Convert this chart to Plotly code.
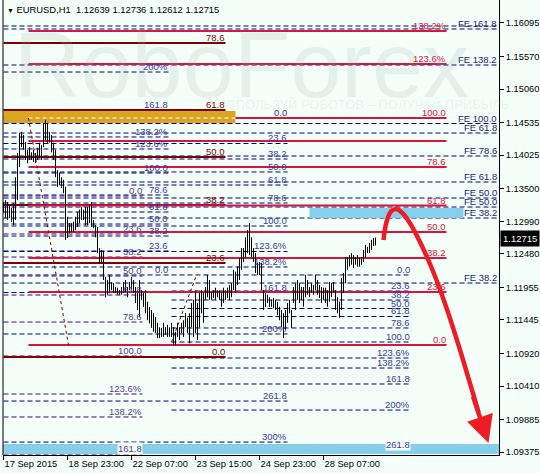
import plotly.graph_objects as go

BG = "#F4FFF9"
FONT = "Liberation Sans, Arial, sans-serif"

# EURUSD H1 bars (high / low), one per hour, left to right
bar_high = [
    1.1329, 1.1332, 1.1329, 1.1324, 1.1320, 1.1327, 1.1368, 1.1406, 1.1437, 1.1439,
    1.1434, 1.1423, 1.1411, 1.1415, 1.1407, 1.1411, 1.1406, 1.1414, 1.1422, 1.1418,
    1.1453, 1.1458, 1.1453, 1.1439, 1.1434, 1.1422, 1.1411, 1.1379, 1.1375, 1.1368,
    1.1364, 1.1353, 1.1306, 1.1296, 1.1296, 1.1298, 1.1306, 1.1314, 1.1317, 1.1321,
    1.1317, 1.1321, 1.1321, 1.1324, 1.1329, 1.1301, 1.1293, 1.1290, 1.1257, 1.1254,
    1.1251, 1.1212, 1.1207, 1.1215, 1.1204, 1.1202, 1.1196, 1.1195, 1.1191, 1.1196,
    1.1204, 1.1207, 1.1196, 1.1204, 1.1212, 1.1207, 1.1196, 1.1191, 1.1207, 1.1191,
    1.1187, 1.1191, 1.1173, 1.1165, 1.1160, 1.1155, 1.1149, 1.1140, 1.1133, 1.1132,
    1.1140, 1.1133, 1.1137, 1.1133, 1.1140, 1.1133, 1.1126, 1.1140, 1.1133, 1.1140,
    1.1144, 1.1155, 1.1148, 1.1155, 1.1171, 1.1176, 1.1191, 1.1171, 1.1187, 1.1191,
    1.1187, 1.1196, 1.1215, 1.1207, 1.1188, 1.1191, 1.1195, 1.1191, 1.1191, 1.1188,
    1.1195, 1.1191, 1.1195, 1.1199, 1.1202, 1.1223, 1.1220, 1.1228, 1.1242, 1.1257,
    1.1257, 1.1274, 1.1285, 1.1296, 1.1274, 1.1257, 1.1249, 1.1234, 1.1235, 1.1234,
    1.1191, 1.1187, 1.1184, 1.1180, 1.1176, 1.1179, 1.1176, 1.1173, 1.1165, 1.1160,
    1.1155, 1.1160, 1.1171, 1.1176, 1.1160, 1.1196, 1.1202, 1.1207, 1.1202, 1.1196,
    1.1196, 1.1215, 1.1207, 1.1196, 1.1202, 1.1199, 1.1215, 1.1207, 1.1199, 1.1196,
    1.1195, 1.1195, 1.1191, 1.1204, 1.1202, 1.1204, 1.1191, 1.1180, 1.1173, 1.1210,
    1.1218, 1.1243, 1.1243, 1.1246, 1.1249, 1.1246, 1.1243, 1.1246, 1.1242, 1.1243,
    1.1254, 1.1262, 1.1259, 1.1265, 1.1270, 1.1273, 1.12736,
]
bar_low = [
    1.1312, 1.1304, 1.1301, 1.1304, 1.1298, 1.1293, 1.1301, 1.1332, 1.1384, 1.1415,
    1.1411, 1.1395, 1.1390, 1.1395, 1.1395, 1.1392, 1.1390, 1.1395, 1.1398, 1.1395,
    1.1415, 1.1426, 1.1422, 1.1422, 1.1407, 1.1395, 1.1368, 1.1353, 1.1356, 1.1351,
    1.1343, 1.1270, 1.1273, 1.1281, 1.1282, 1.1282, 1.1285, 1.1290, 1.1296, 1.1301,
    1.1301, 1.1293, 1.1293, 1.1296, 1.1290, 1.1288, 1.1274, 1.1249, 1.1234, 1.1234,
    1.1207, 1.1180, 1.1184, 1.1187, 1.1191, 1.1187, 1.1187, 1.1184, 1.1184, 1.1184,
    1.1187, 1.1188, 1.1180, 1.1191, 1.1191, 1.1187, 1.1171, 1.1160, 1.1149, 1.1176,
    1.1165, 1.1155, 1.1144, 1.1139, 1.1132, 1.1126, 1.1124, 1.1116, 1.1116, 1.1118,
    1.1118, 1.1121, 1.1118, 1.1118, 1.1118, 1.1105, 1.1105, 1.1118, 1.1113, 1.1124,
    1.1118, 1.1133, 1.1124, 1.1108, 1.1133, 1.1118, 1.1124, 1.1113, 1.1133, 1.1155,
    1.1140, 1.1176, 1.1180, 1.1176, 1.1176, 1.1179, 1.1176, 1.1180, 1.1176, 1.1165,
    1.1171, 1.1176, 1.1179, 1.1176, 1.1180, 1.1191, 1.1187, 1.1199, 1.1207, 1.1223,
    1.1235, 1.1242, 1.1249, 1.1246, 1.1242, 1.1235, 1.1218, 1.1215, 1.1215, 1.1191,
    1.1160, 1.1165, 1.1171, 1.1165, 1.1165, 1.1163, 1.1160, 1.1152, 1.1144, 1.1133,
    1.1116, 1.1129, 1.1140, 1.1155, 1.1132, 1.1171, 1.1160, 1.1176, 1.1171, 1.1176,
    1.1165, 1.1180, 1.1184, 1.1180, 1.1187, 1.1184, 1.1191, 1.1184, 1.1179, 1.1171,
    1.1176, 1.1171, 1.1165, 1.1173, 1.1180, 1.1188, 1.1160, 1.1155, 1.1148, 1.1160,
    1.1187, 1.1202, 1.1223, 1.1228, 1.1231, 1.1226, 1.1231, 1.1228, 1.1228, 1.1231,
    1.1235, 1.1242, 1.1249, 1.1249, 1.1254, 1.1260, 1.12612,
]
last_price = 1.12715

date_ticks = [0, 32, 64, 96, 128, 160]
date_labels = ["17 Sep 2015", "18 Sep 23:00", "22 Sep 07:00", "23 Sep 15:00",
               "24 Sep 23:00", "28 Sep 07:00"]
price_ticks = [1.16095, 1.15570, 1.15060, 1.14535, 1.14025, 1.13500, 1.12990,
               1.12480, 1.11955, 1.11445, 1.10920, 1.10410, 1.09885, 1.09375]

# fibonacci retracement, crimson
red_fib = [1.15970, 1.15453, 1.14607, 1.14247, 1.13840, 1.13237, 1.12822, 1.12415, 1.11882, 1.11052]
red_fib_labels = ["138.2%", "123.6%", "100.0", "", "78.6", "61.8", "50.0", "38.2", "23.6", "0.0"]

# fibonacci retracement, maroon
maroon_fib = [1.15782, 1.14732, 1.13996, 1.13245, 1.12336, 1.10864]
maroon_fib_labels = ["78.6", "61.8", "50.0", "38.2", "23.6", "0.0"]

# fibonacci, purple (left)
purple_fib = [1.13386, 1.12791, 1.12430, 1.12133, 1.11835, 1.11412, 1.10880, 1.10285, 1.09925, 1.09345]
purple_fib_labels = ["0.0", "23.6", "38.2", "50.0", "61.8", "78.6", "100.0", "123.6%", "138.2%", "161.8"]

# fibonacci, blue (three objects)
fib_a = [1.12149, 1.12524, 1.12759, 1.12947, 1.13135, 1.13401, 1.13746, 1.14122, 1.14310, 1.14732, 1.15327]
fib_a_labels = ["0.0", "23.6", "38.2", "50.0", "61.8", "78.6", "100.0", "123.6%", "138.2%", "161.8", "200%"]
fib_b = [1.12149, 1.11898, 1.11757, 1.11624, 1.11499, 1.11319, 1.11099, 1.10849, 1.10692, 1.10442, 1.10034, 1.09408]
fib_b_labels = ["0.0", "23.6", "38.2", "50.0", "61.8", "78.6", "100.0", "123.6%", "138.2%", "161.8", "200%", "261.8"]
fib_c = [1.14607, 1.14208, 1.13965, 1.13762, 1.13558, 1.13276, 1.12916, 1.12517, 1.12274, 1.11874, 1.11225, 1.10175, 1.09533]
fib_c_labels = ["0.0", "23.6", "38.2", "50.0", "61.8", "78.6", "100.0", "123.6%", "138.2%", "161.8", "200%", "261.8", "300%"]

# fibonacci expansion levels
fe_levels = [1.16048, 1.16001, 1.15437, 1.14521, 1.14372, 1.14012, 1.13605, 1.13354, 1.13213, 1.13041, 1.12023]
fe_labels = ["", "FE 161.8", "FE 138.2", "FE 100.0", "FE 61.8", "FE 78.6", "FE 61.8",
             "FE 50.0", "FE 50.0", "FE 38.2", "FE 38.2"]

# zones
gold_zone = [1.14529, 1.14717]
target_zone = [1.13041, 1.13198]
bottom_zone = [1.09345, 1.09502]

# forecast path
forecast_x = [190, 191.5, 194, 196.5, 199.5, 203.5, 208.5, 214.5, 221, 227.5, 233.5, 237.5]
forecast_y = [1.12697, 1.12979, 1.13151, 1.13182, 1.13119, 1.12947, 1.12650, 1.12227,
              1.11679, 1.11052, 1.10426, 1.10003]
arrow_from = (234.5, 1.10269)
arrow_to = (242.5, 1.09518)

CRIMSON = "#DC143C"
MAROON = "#800000"
NAVY = "#000080"
INDIGO = "#4B0082"

fig = go.Figure()


def level_set(prices, labels, x0, x1, color, width, dash, label_color):
    xs, ys = [], []
    for p in prices:
        xs += [x0, x1, None]
        ys += [p, p, None]
    fig.add_trace(go.Scatter(x=xs, y=ys, mode="lines", hoverinfo="skip",
                             line=dict(color=color, width=width, dash=dash)))
    for p, t in zip(prices, labels):
        if not t:
            continue
        in_band = bottom_zone[0] - 0.0001 <= p <= bottom_zone[1] + 0.0001
        fig.add_annotation(x=x1, y=p, text=t, xanchor="right", yanchor="bottom",
                           showarrow=False, borderpad=0, yshift=-1,
                           bgcolor=BG if in_band else None,
                           font=dict(family=FONT, size=9.5, color=label_color))


def zone(x0, x1, lo, hi, color):
    fig.add_trace(go.Scatter(x=[x0, x1, x1, x0, x0], y=[lo, lo, hi, hi, lo],
                             mode="lines", fill="toself", fillcolor=color,
                             line=dict(width=0, color=color), hoverinfo="skip"))


DASH = "5px,3px"
level_set(fe_levels, fe_labels, 0, 247, NAVY, 1, DASH, "#1E1E78")
level_set(fib_c, fib_c_labels, 0, 142, NAVY, 1, DASH, "#3A3AA0")
level_set(fib_a, fib_a_labels, 0, 82.5, NAVY, 1, DASH, "#3A3AA0")
level_set(fib_b, fib_b_labels, 84, 203.5, NAVY, 1, DASH, "#3A3AA0")
level_set(purple_fib, purple_fib_labels, 0, 69.5, INDIGO, 1, DASH, "#5A3C9A")
level_set(maroon_fib, maroon_fib_labels, 0, 111, MAROON, 2, "solid", MAROON)
level_set(red_fib, red_fib_labels, 12.5, 221.5, CRIMSON, 2, "solid", CRIMSON)

zone(0, 116, gold_zone[0], gold_zone[1], "#DAA520")
zone(153, 230, target_zone[0], target_zone[1], "#87CEEB")
zone(-1, 248, bottom_zone[0], bottom_zone[1], "#87CEEB")

# level line seen through the gold zone
fig.add_trace(go.Scatter(x=[12.5, 116], y=[red_fib[2], red_fib[2]], mode="lines",
                         hoverinfo="skip", line=dict(color="white", width=1, dash="4px,3px")))

# fib anchor diagonals
fig.add_trace(go.Scatter(x=[12.5, 32.5], y=[red_fib[2], red_fib[-1]], mode="lines",
                         hoverinfo="skip", line=dict(color=MAROON, width=1, dash="dot")))
fig.add_trace(go.Scatter(x=[84, 96.5], y=[fib_b[6], fib_b[0]], mode="lines",
                         hoverinfo="skip", line=dict(color=MAROON, width=1, dash="dot")))

# price bars
bx, by = [], []
for i, (h, l) in enumerate(zip(bar_high, bar_low)):
    bx += [i, i, None]
    by += [l, h, None]
fig.add_trace(go.Scatter(x=bx, y=by, mode="lines", hoverinfo="skip",
                         line=dict(color="black", width=1)))

# forecast
fig.add_trace(go.Scatter(x=forecast_x, y=forecast_y, mode="lines", hoverinfo="skip",
                         line=dict(color="#EE1C24", width=4.5, shape="spline")))
fig.add_annotation(x=arrow_to[0], y=arrow_to[1], ax=arrow_from[0], ay=arrow_from[1],
                   xref="x", yref="y", axref="x", ayref="y", showarrow=True,
                   arrowhead=2, arrowsize=1.2, arrowwidth=4.5, arrowcolor="#EE1C24", text="")

# watermark
fig.add_annotation(x=0.48, y=0.857, xref="paper", yref="paper", xanchor="center", yanchor="middle",
                   text="RoboForex", showarrow=False,
                   font=dict(family=FONT, size=92, color="rgba(150,170,160,0.16)"))
fig.add_annotation(x=0.725, y=0.771, xref="paper", yref="paper", xanchor="center", yanchor="middle",
                   text="ИСПОЛЬЗУЙ РОБОТОВ – ПОЛУЧАЙ ПРИБЫЛЬ", showarrow=False,
                   font=dict(family=FONT, size=13, color="rgba(150,170,160,0.14)"))

# title
fig.add_annotation(x=0, y=1, xref="paper", yref="paper", xanchor="left", yanchor="top",
                   xshift=2, yshift=-2, showarrow=False,
                   text="<span style='font-size:7px'>▼</span> EURUSD,H1  1.12639 1.12736 1.12612 1.12715",
                   font=dict(family=FONT, size=9.4, color="black"))

# current price box
fig.add_annotation(x=1, y=last_price, xref="paper", yref="y", xanchor="left", xshift=1,
                   showarrow=False, text=f"{last_price:.5f}", bgcolor="black", borderpad=2,
                   font=dict(family=FONT, size=9.5, color="white"))

fig.add_shape(type="line", xref="paper", yref="paper", x0=0, x1=0, y0=0, y1=1,
              line=dict(color="black", width=1))

fig.update_layout(
    width=540, height=473,
    margin=dict(l=3, r=41, t=0, b=18),
    paper_bgcolor=BG, plot_bgcolor=BG,
    showlegend=False, hovermode=False,
    xaxis=dict(range=[-0.25, 247.75], showgrid=False, zeroline=False,
               tickvals=date_ticks, ticktext=date_labels, tickangle=0,
               ticks="outside", ticklen=4, tickcolor="black",
               ticklabelposition="outside right",
               showline=True, linecolor="black", linewidth=1,
               tickfont=dict(family=FONT, size=9.3, color="black")),
    yaxis=dict(range=[1.09330, 1.16455], side="right", showgrid=False, zeroline=False,
               tickvals=price_ticks, tickformat=".5f",
               ticks="outside", ticklen=4, tickcolor="black",
               showline=True, linecolor="black", linewidth=1,
               tickfont=dict(family=FONT, size=9.3, color="black")),
)

fig.write_html("out.html", config={"displayModeBar": False},
               post_script="document.body.style.margin='0px';")
